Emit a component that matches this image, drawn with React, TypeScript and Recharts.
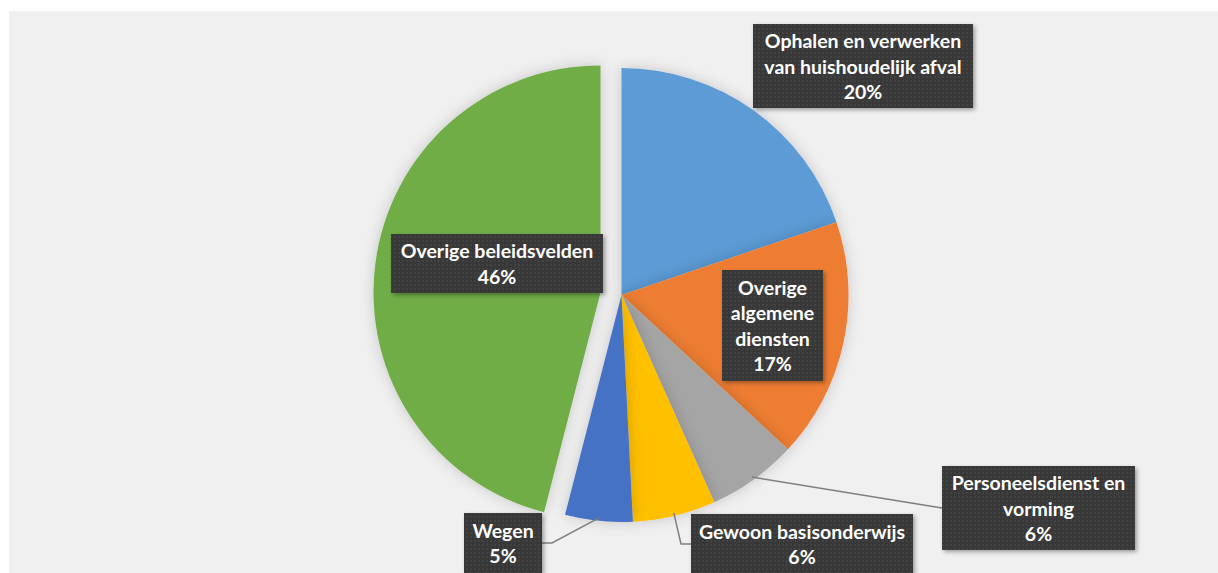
import React from "react";
import { PieChart, Pie, Cell } from "recharts";

const categories = [
  "Ophalen en verwerken van huishoudelijk afval",
  "Overige algemene diensten",
  "Personeelsdienst en vorming",
  "Gewoon basisonderwijs",
  "Wegen",
  "Overige beleidsvelden",
];
const shares = [19.8, 17.1, 6.4, 5.9, 4.8, 46.0];
const labelLines = [
  ["Ophalen en verwerken", "van huishoudelijk afval"],
  ["Overige", "algemene", "diensten"],
  ["Personeelsdienst en", "vorming"],
  ["Gewoon basisonderwijs"],
  ["Wegen"],
  ["Overige beleidsvelden"],
];
const colors = ["#5B9BD5", "#ED7D31", "#A5A5A5", "#FFC000", "#4472C4", "#70AD47"];

const data = categories.map((name, i) => ({ name, value: shares[i] }));

// label boxes, relative to the pie centre
const labelLayout = [
  { dx: 241.5, dy: -229, w: 220, h: 84, leader: "none" },
  { dx: 151, dy: 30.5, w: 101, h: 111, leader: "none" },
  { dx: 417, dy: 213, w: 193, h: 84, leader: "straight" },
  { dx: 180.5, dy: 249, w: 222, h: 60, leader: "elbow" },
  { dx: -118.5, dy: 248, w: 78, h: 60, leader: "elbow" },
  { dx: -124.5, dy: -31.5, w: 212, h: 59, leader: "none" },
];

const EXPLODED = 5;
const CX = 612.5;
const CY = 284;
const R = 227;
const RAD = Math.PI / 180;

const renderLabel = (props: any) => {
  const { cx, cy, midAngle, outerRadius, index, percent } = props;
  const lay = labelLayout[index];
  const bx = cx + lay.dx;
  const by = cy + lay.dy;
  const left = bx - lay.w / 2;
  const right = bx + lay.w / 2;
  const lines = [...labelLines[index], `${Math.round(percent * 100)}%`];
  const lh = 25.5;
  const ex = cx + (outerRadius - 3) * Math.cos(-midAngle * RAD);
  const ey = cy + (outerRadius - 3) * Math.sin(-midAngle * RAD);
  let leader: React.ReactNode = null;
  if (lay.leader === "straight") {
    leader = <polyline points={`${ex},${ey} ${left},${by}`} fill="none" stroke="#7f7f7f" strokeWidth={1.5} />;
  } else if (lay.leader === "elbow") {
    const side = bx > cx ? left : right;
    const knee = bx > cx ? left - 10 : right + 10;
    leader = (
      <polyline points={`${ex},${ey} ${knee},${by} ${side},${by}`} fill="none" stroke="#7f7f7f" strokeWidth={1.5} />
    );
  }
  return (
    <g key={`lbl-${index}`}>
      {leader}
      <rect x={left} y={by - lay.h / 2} width={lay.w} height={lay.h} fill="url(#dots)" filter="url(#boxShadow)" />
      {lines.map((t, i) => (
        <text
          key={i}
          x={bx}
          y={by + (i - (lines.length - 1) / 2) * lh}
          textAnchor="middle"
          dominantBaseline="central"
          fill="#ffffff"
          fontFamily="Lato"
          fontWeight={700}
          fontSize={19.5}
        >
          {t}
        </text>
      ))}
    </g>
  );
};

export default function App() {
  return (
    <div style={{ position: "absolute", left: 0, top: 0, width: 1218, height: 573, background: "#fff" }}>
      <div
        style={{
          position: "absolute",
          left: 9,
          top: 11,
          width: 1209,
          height: 562,
          background: "#f0f0f0",
          overflow: "hidden",
        }}
      >
        <PieChart width={1209} height={562} margin={{ top: 0, right: 0, bottom: 0, left: 0 }}>
          <defs>
            <pattern id="dots" width="4" height="4" patternUnits="userSpaceOnUse">
              <rect width="4" height="4" fill="#383838" />
              <circle cx="2" cy="2" r="0.9" fill="#474747" />
            </pattern>
            <filter id="boxShadow" x="-10%" y="-10%" width="130%" height="130%">
              <feDropShadow dx="2" dy="2" stdDeviation="2" floodColor="#000" floodOpacity="0.35" />
            </filter>
            <filter id="pieShadow" x="-20%" y="-20%" width="140%" height="140%">
              <feDropShadow dx="0" dy="0" stdDeviation="7" floodColor="#000" floodOpacity="0.18" />
            </filter>
          </defs>
          {/* exploded slice */}
          <Pie
            data={data}
            dataKey="value"
            nameKey="name"
            cx={CX - 21}
            cy={CY - 2.6}
            outerRadius={R}
            startAngle={90}
            endAngle={-270}
            stroke="none"
            filter="url(#pieShadow)"
            isAnimationActive={false}
            label={false}
            labelLine={false}
          >
            {data.map((_, i) => (
              <Cell key={`g-${i}`} fill={i === EXPLODED ? colors[i] : "transparent"} />
            ))}
          </Pie>
          <Pie
            data={data}
            dataKey="value"
            nameKey="name"
            cx={CX}
            cy={CY}
            outerRadius={R}
            startAngle={90}
            endAngle={-270}
            stroke="none"
            filter="url(#pieShadow)"
            isAnimationActive={false}
            label={renderLabel}
            labelLine={false}
          >
            {data.map((_, i) => (
              <Cell key={`c-${i}`} fill={i === EXPLODED ? "transparent" : colors[i]} />
            ))}
          </Pie>
        </PieChart>
      </div>
    </div>
  );
}
